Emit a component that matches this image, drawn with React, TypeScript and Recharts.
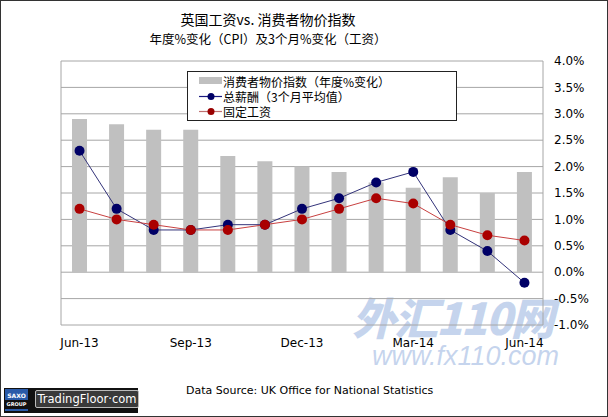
import React from 'react';
import {
  ComposedChart,
  Bar,
  Line,
  XAxis,
  YAxis,
  CartesianGrid,
} from 'recharts';

const months = [
  'Jun-13', 'Jul-13', 'Aug-13', 'Sep-13', 'Oct-13', 'Nov-13', 'Dec-13',
  'Jan-14', 'Feb-14', 'Mar-14', 'Apr-14', 'May-14', 'Jun-14',
];
const cpi = [2.9, 2.8, 2.7, 2.7, 2.2, 2.1, 2.0, 1.9, 1.7, 1.6, 1.8, 1.5, 1.9];
const totalPay = [2.3, 1.2, 0.8, 0.8, 0.9, 0.9, 1.2, 1.4, 1.7, 1.9, 0.8, 0.4, -0.2];
const regularPay = [1.2, 1.0, 0.9, 0.8, 0.8, 0.9, 1.0, 1.2, 1.4, 1.3, 0.9, 0.7, 0.6];
const yTicks = [-1, -0.5, 0, 0.5, 1, 1.5, 2, 2.5, 3, 3.5, 4];

const seriesNames = ['消费者物价指数（年度%变化）', '总薪酬（3个月平均值）', '固定工资'];

const data = months.map((m, i) => ({
  month: m,
  cpi: cpi[i],
  total: totalPay[i],
  regular: regularPay[i],
}));

const cjk = '"Noto Sans CJK SC", "Noto Sans", sans-serif';
const latin = '"DejaVu Sans", sans-serif';

function LegendBox() {
  return (
    <div
      style={{
        position: 'absolute',
        left: 187,
        top: 71,
        width: 268,
        height: 48,
        border: '1px solid #222',
        background: '#fff',
        fontFamily: cjk,
        fontSize: 12,
        lineHeight: '15px',
        color: '#000',
        overflow: 'hidden',
      }}
    >
      {seriesNames.map((name, i) => (
        <div key={name} style={{ display: 'flex', alignItems: 'center', height: 15, marginTop: i === 0 ? 2 : 0 }}>
          <svg width={24} height={15} style={{ marginLeft: 11 }}>
            {i === 0 ? (
              <rect x={0} y={3} width={23} height={7} fill="#c0c0c0" />
            ) : (
              <>
                <line x1={0} y1={7.5} x2={23} y2={7.5} stroke={i === 1 ? '#1a1a80' : '#c07070'} strokeWidth={1.2} />
                <circle cx={12} cy={7.5} r={3.5} fill={i === 1 ? '#000066' : '#990000'} />
              </>
            )}
          </svg>
          <span>{name}</span>
        </div>
      ))}
    </div>
  );
}

function Logo() {
  return (
    <div style={{ position: 'absolute', left: 4, top: 388, width: 134, height: 25 }}>
      <div style={{ position: 'absolute', left: 0, top: 0, width: 134, height: 25, background: '#111' }} />
      <div
        style={{
          position: 'absolute', left: 1, top: 1, width: 23, height: 22, background: '#2a5aa8',
          color: '#fff', fontFamily: latin, fontSize: 6, fontWeight: 'bold', textAlign: 'center', lineHeight: '9px',
        }}
      >
        <div style={{ marginTop: 2 }}>SAXO</div>
        <div style={{ background: '#111', fontSize: 5 }}>GROUP</div>
      </div>
      <div
        style={{
          position: 'absolute', left: 31, top: 2, width: 102, height: 16, background: '#3a3a3a',
          border: '1px solid #bbb', borderRadius: 2, color: '#fff', fontFamily: latin, fontSize: 11.5,
          lineHeight: '16px', textAlign: 'center',
        }}
      >
        TradingFloor·com
      </div>
    </div>
  );
}

export default function App() {
  return (
    <div style={{ position: 'fixed', left: 0, top: 0, width: 608, height: 417, background: '#fff', overflow: 'hidden' }}>
      <div
        style={{
          position: 'absolute', left: 352, top: 292, fontFamily: cjk, fontSize: 44, fontWeight: 900, fontStyle: 'italic',
          color: 'rgba(140,170,220,0.5)', letterSpacing: -2, lineHeight: '48px',
        }}
      >
        外汇110网
      </div>
      <div
        style={{
          position: 'absolute', left: 372, top: 341, fontFamily: '"Liberation Sans", sans-serif', fontSize: 27, fontStyle: 'italic',
          color: 'rgba(140,170,220,0.5)', lineHeight: '30px',
        }}
      >
        www.fx110.com
      </div>
      <div
        style={{
          position: 'absolute', left: 0, top: 0, width: 606, height: 415, border: '1px solid #333', boxSizing: 'content-box',
        }}
      />
      <div style={{ position: 'absolute', left: 0, width: 536, top: 9, textAlign: 'center', fontFamily: cjk, fontSize: 14, color: '#000' }}>
        英国工资vs. 消费者物价指数
      </div>
      <div style={{ position: 'absolute', left: 0, width: 536, top: 29, textAlign: 'center', fontFamily: cjk, fontSize: 12.5, color: '#000' }}>
        年度%变化（CPI）及3个月%变化（工资）
      </div>
      <div style={{ position: 'absolute', left: 0, top: 0 }}>
        <ComposedChart width={608} height={417} data={data} margin={{ top: 61, right: 0, left: 61, bottom: 62 }}>
          <CartesianGrid stroke="#a6a6a6" strokeWidth={1} verticalPoints={[61, 543]} />
          <XAxis
            dataKey="month"
            interval={2}
            axisLine={false}
            tickLine={false}
            height={30}
            tickMargin={7}
            tick={{ fill: '#000', fontSize: 12, fontFamily: latin }}
          />
          <YAxis
            orientation="right"
            domain={[-1, 4]}
            ticks={yTicks}
            width={65}
            axisLine={false}
            tickLine={false}
            tickMargin={5}
            tickFormatter={(v: number) => `${v.toFixed(1)}%`}
            tick={{ fill: '#000', fontSize: 12, fontFamily: latin, textAnchor: 'start' }}
          />
          <Bar dataKey="cpi" name={seriesNames[0]} fill="#c0c0c0" barSize={15} isAnimationActive={false} />
          <Line
            type="linear"
            dataKey="total"
            name={seriesNames[1]}
            stroke="#33337a"
            strokeWidth={1}
            dot={{ r: 5, fill: '#000066', stroke: 'none' }}
            isAnimationActive={false}
          />
          <Line
            type="linear"
            dataKey="regular"
            name={seriesNames[2]}
            stroke="#c84040"
            strokeWidth={1}
            dot={{ r: 5, fill: '#aa0000', stroke: 'none' }}
            isAnimationActive={false}
          />
        </ComposedChart>
      </div>
      <LegendBox />
      <Logo />
      <div style={{ position: 'absolute', left: 186, top: 384, fontFamily: latin, fontSize: 11, color: '#000' }}>
        Data Source: UK Office for National Statistics
      </div>
    </div>
  );
}
